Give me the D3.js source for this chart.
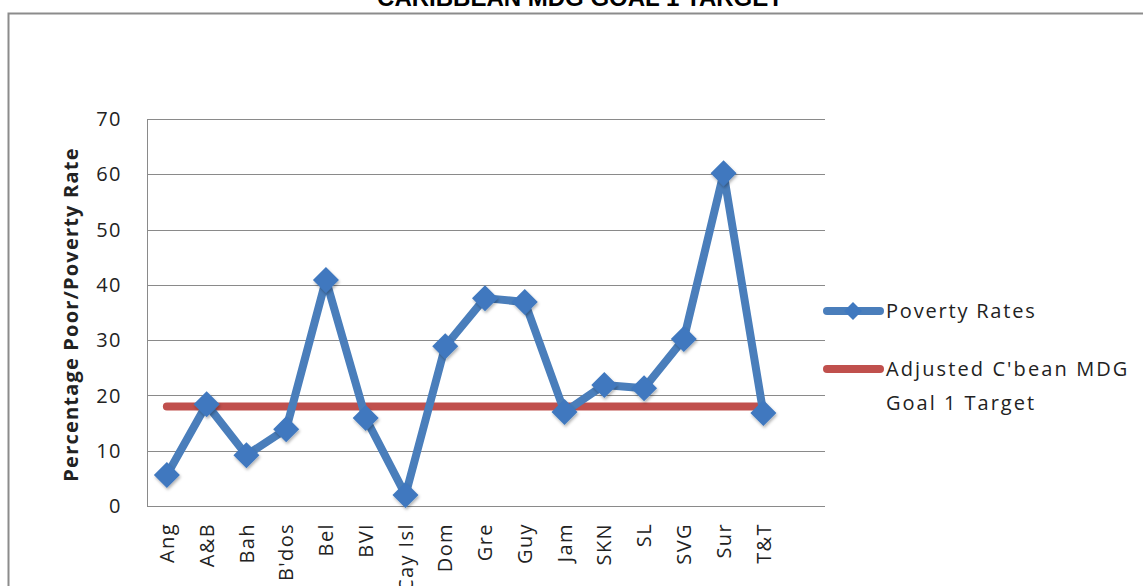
<!DOCTYPE html>
<html lang="en">
<head>
<meta charset="utf-8">
<title>Caribbean MDG Goal 1 Target</title>
<script src="https://d3js.org/d3.v7.min.js"></script>
<style>
  body { margin: 0; background: #fff; }
  svg { display: block; }
</style>
</head>
<body>
<script>
// data
var countries = ["Ang","A&B","Bah","B'dos","Bel","BVI","Cay Isl","Dom","Gre","Guy","Jam","SKN","SL","SVG","Sur","T&T"];
var povertyRates = [5.6, 18.4, 9.2, 13.9, 40.9, 15.9, 2.0, 28.9, 37.6, 36.9, 17.0, 21.9, 21.3, 30.2, 60.2, 16.8];
var targetRate = 18;
var yTicks = [0, 10, 20, 30, 40, 50, 60, 70];
var slots = 17; // excel left one empty slot at the right end

var W = 1143, H = 586;
var plotL = 147, plotR = 823, plotT = 119, plotB = 506;

var svg = d3.select("body").append("svg").attr("width", W).attr("height", H);

// outer chart frame
svg.append("rect").attr("x", 8.5).attr("y", 13.5).attr("width", W + 20).attr("height", H + 20)
  .attr("fill", "none").attr("stroke", "#8c8c8c").attr("stroke-width", 2);

svg.append("text").attr("x", 580).attr("y", 6).attr("text-anchor", "middle")
  .style("font", "bold 24px 'Liberation Sans', Arial, sans-serif").attr("fill", "#000")
  .text("CARIBBEAN MDG GOAL 1 TARGET");

var x = d3.scaleLinear().domain([0, slots]).range([plotL, plotR]);
var y = d3.scaleLinear().domain([0, 70]).range([plotB, plotT]);
var cx = function(i){ return x(i + 0.5); };

// gridlines
svg.append("g").selectAll("line").data(yTicks).enter().append("line")
  .attr("x1", plotL).attr("x2", plotR + 2)
  .attr("y1", function(d){ return Math.round(y(d)) + 0.5; })
  .attr("y2", function(d){ return Math.round(y(d)) + 0.5; })
  .attr("stroke", "#8a8a8a").attr("stroke-width", 1);

svg.append("line").attr("x1", plotL + 0.5).attr("x2", plotL + 0.5).attr("y1", plotT).attr("y2", plotB + 1)
  .attr("stroke", "#8a8a8a");

var labelFont = "'Open Sans', 'Noto Sans', sans-serif";

svg.append("g").selectAll("text").data(yTicks).enter().append("text")
  .attr("x", 122).attr("y", function(d){ return y(d); }).attr("dy", "0.36em")
  .attr("text-anchor", "end").style("font-family", labelFont).style("font-size", "20px")
  .style("letter-spacing", "1.5px")
  .attr("fill", "#222").text(function(d){ return d; });

svg.append("text").attr("transform", "translate(78," + ((plotT + plotB) / 2 + 2) + ") rotate(-90)")
  .attr("text-anchor", "middle").style("font-family", labelFont).style("font-size", "20px")
  .style("letter-spacing", "1.2px")
  .style("font-weight", "bold").attr("fill", "#222").text("Percentage Poor/Poverty Rate");

svg.append("g").selectAll("text").data(countries).enter().append("text")
  .attr("transform", function(d, i){ return "translate(" + cx(i) + ",523) rotate(-90)"; })
  .attr("dy", "0.36em").attr("text-anchor", "end")
  .style("font-family", labelFont).style("font-size", "20px").style("letter-spacing", "1.4px")
  .attr("fill", "#222")
  .text(function(d){ return d; });

// shadow for the markers
var defs = svg.append("defs");
var f = defs.append("filter").attr("id", "sh").attr("x", "-50%").attr("y", "-50%").attr("width", "200%").attr("height", "200%");
f.append("feDropShadow").attr("dx", 1).attr("dy", 2).attr("stdDeviation", 1.5).attr("flood-color", "#000").attr("flood-opacity", 0.3);

var blue = "#4a7ebb", red = "#c0504d";

// target line
svg.append("line").attr("x1", cx(0)).attr("x2", cx(countries.length - 1))
  .attr("y1", y(targetRate)).attr("y2", y(targetRate))
  .attr("stroke", red).attr("stroke-width", 8).attr("stroke-linecap", "round");

var line = d3.line().x(function(d, i){ return cx(i); }).y(function(d){ return y(d); });
svg.append("path").datum(povertyRates).attr("d", line).attr("fill", "none")
  .attr("stroke", blue).attr("stroke-width", 8).attr("stroke-linejoin", "round");

var diamond = "M0,-13L13,0L0,13L-13,0Z";
svg.append("g").selectAll("path").data(povertyRates).enter().append("path")
  .attr("d", diamond).attr("transform", function(d, i){ return "translate(" + cx(i) + "," + y(d) + ")"; })
  .attr("fill", "#3f78bf").attr("filter", "url(#sh)");

// legend
var lg = svg.append("g");
lg.append("line").attr("x1", 827).attr("x2", 880).attr("y1", 311).attr("y2", 311)
  .attr("stroke", blue).attr("stroke-width", 8).attr("stroke-linecap", "round");
lg.append("path").attr("d", "M0,-9L9,0L0,9L-9,0Z").attr("transform", "translate(853,311)").attr("fill", "#3f78bf");
lg.append("line").attr("x1", 827).attr("x2", 880).attr("y1", 369).attr("y2", 369)
  .attr("stroke", red).attr("stroke-width", 8).attr("stroke-linecap", "round");

var legText = [["Poverty Rates", 318, 1.8], ["Adjusted C'bean MDG", 376, 2.1], ["Goal 1 Target", 410, 2.0]];
lg.selectAll("text.l").data(legText).enter().append("text").attr("class", "l")
  .attr("x", 886).attr("y", function(d){ return d[1]; })
  .style("font-family", labelFont).style("font-size", "20px")
  .style("letter-spacing", function(d){ return d[2] + "px"; }).attr("fill", "#222")
  .text(function(d){ return d[0]; });
</script>
</body>
</html>
